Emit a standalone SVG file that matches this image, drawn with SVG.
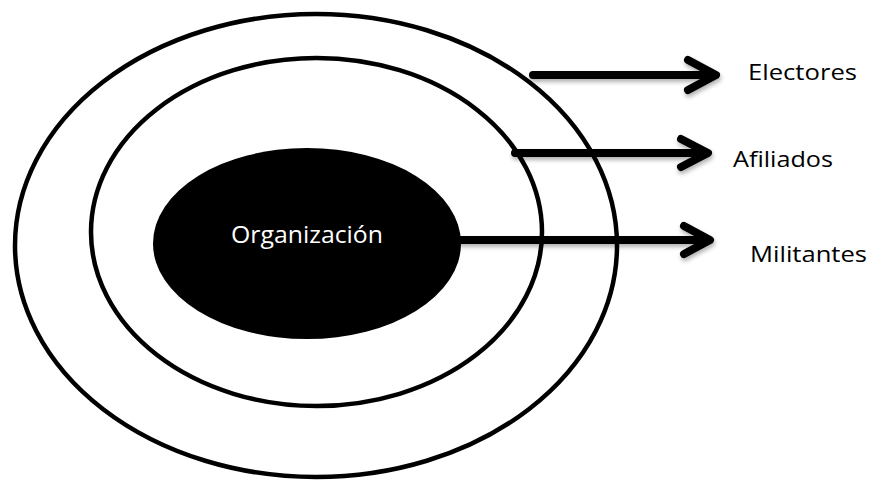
<svg xmlns="http://www.w3.org/2000/svg" width="873" height="480" viewBox="0 0 873 480">
<defs>
<style>
.ring{fill:none;stroke:#000;stroke-width:4.5}
.arr{fill:none;stroke:#000;stroke-width:8;stroke-linecap:round;stroke-linejoin:round}
.lbl{font-family:"Open Sans","Liberation Sans",sans-serif;font-size:21px;fill:#000}
.org{font-family:"Open Sans","Liberation Sans",sans-serif;font-size:23px;fill:#fff}
</style>
<filter id="sh" x="-5%" y="-50%" width="110%" height="200%">
<feDropShadow dx="1" dy="3" stdDeviation="2" flood-color="#000" flood-opacity="0.3"/>
</filter>
</defs>
<rect width="873" height="480" fill="#fff"/>
<g id="electores-ring"><ellipse class="ring" cx="316" cy="245.5" rx="301" ry="231.5"/></g>
<g id="afiliados-ring"><ellipse class="ring" cx="316.5" cy="232" rx="225.5" ry="174"/></g>
<g id="organizacion"><ellipse cx="307" cy="243.5" rx="154" ry="95.5" fill="#000"/>
<text class="org" x="231" y="243" textLength="152" lengthAdjust="spacingAndGlyphs">Organización</text></g>
<g id="connectors" filter="url(#sh)">
<path class="arr" d="M533 75H714M688 60L716 75L688 90"/>
<path class="arr" d="M515 153H706M681 139L708 153L681 167"/>
<path class="arr" d="M461 240H708M684 226L710 240L684 254"/>
</g>
<g id="label-electores"><text class="lbl" x="748" y="80" textLength="109" lengthAdjust="spacingAndGlyphs">Electores</text></g>
<g id="label-afiliados"><text class="lbl" x="733" y="167" textLength="100" lengthAdjust="spacingAndGlyphs">Afiliados</text></g>
<g id="label-militantes"><text class="lbl" x="750" y="262" textLength="117" lengthAdjust="spacingAndGlyphs">Militantes</text></g>
</svg>
